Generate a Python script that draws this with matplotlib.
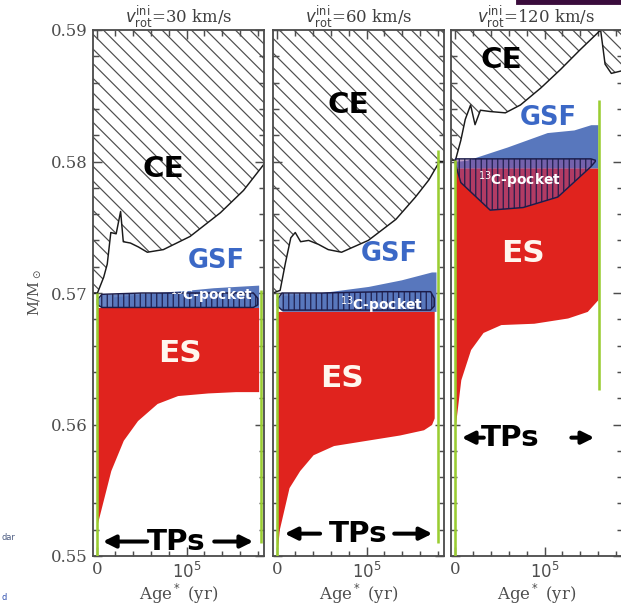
import matplotlib
matplotlib.use("Agg")
import matplotlib.pyplot as plt
from matplotlib.patches import Rectangle

# ages in units of 1e5 yr, masses in M/Msun
titles = ["$v_{\\rm rot}^{\\rm ini}$=30 km/s", "$v_{\\rm rot}^{\\rm ini}$=60 km/s", "$v_{\\rm rot}^{\\rm ini}$=120 km/s"]

# convective envelope (CE) lower boundary
ce_x1 = [-0.05, 0.0, 0.07, 0.11, 0.15, 0.21, 0.26, 0.29, 0.37, 0.46, 0.56, 0.74, 1.04, 1.38, 1.64, 1.87]
ce_y1 = [0.5700, 0.5700, 0.5712, 0.5722, 0.5746, 0.5745, 0.5762, 0.5739, 0.5738, 0.5735, 0.5731, 0.5733, 0.5743, 0.5761, 0.5778, 0.5798]
ce_x2 = [-0.05, 0.03, 0.09, 0.15, 0.20, 0.26, 0.35, 0.46, 0.57, 0.72, 1.02, 1.33, 1.55, 1.70, 1.82, 1.87]
ce_y2 = [0.5700, 0.5702, 0.5723, 0.5742, 0.5746, 0.5739, 0.5740, 0.5737, 0.5733, 0.5731, 0.5740, 0.5756, 0.5773, 0.5786, 0.5800, 0.5800]
ce_x3 = [-0.05, 0.0, 0.06, 0.11, 0.17, 0.22, 0.28, 0.39, 0.56, 0.73, 0.96, 1.18, 1.40, 1.60, 1.63]
ce_y3 = [0.5801, 0.5801, 0.5816, 0.5832, 0.5843, 0.5828, 0.5839, 0.5838, 0.5837, 0.5843, 0.5856, 0.5870, 0.5885, 0.5898, 0.5900]
# envelope after the last TP (panel 3, top right)
ce_post_x3 = [1.63, 1.68, 1.75, 1.87]
ce_post_y3 = [0.5900, 0.5874, 0.5867, 0.5869]

# GSF (blue) region
gsf_x1 = [0.18, 0.60, 0.99, 1.30, 1.55, 1.81]
gsf_top1 = [0.5697, 0.5700, 0.5702, 0.5704, 0.5705, 0.5706]
gsf_bot1 = 0.5689
gsf_x2 = [0.05, 0.46, 1.02, 1.39, 1.73, 1.78]
gsf_top2 = [0.5698, 0.5700, 0.5705, 0.5710, 0.5716, 0.5716]
gsf_bot2 = 0.5686
gsf_x3 = [0.0, 0.13, 0.58, 1.03, 1.33, 1.52, 1.60]
gsf_top3 = [0.5800, 0.5801, 0.5811, 0.5822, 0.5824, 0.5828, 0.5828]
gsf_bot3 = 0.5795

# 13C pocket
pk_x1 = [0.0, 0.05, 0.5, 1.2, 1.75, 1.80]
pk_top1 = [0.5695, 0.5699, 0.5700, 0.5700, 0.5700, 0.5696]
pk_bot1 = [0.5691, 0.5689, 0.5689, 0.5689, 0.5689, 0.5691]
pk_x2 = [0.0, 0.05, 0.5, 1.2, 1.72, 1.76]
pk_top2 = [0.5695, 0.5700, 0.5700, 0.5701, 0.5701, 0.5696]
pk_bot2 = [0.5690, 0.5687, 0.5687, 0.5687, 0.5687, 0.5690]
pk_x3 = [0.0, 0.06, 0.39, 0.76, 1.15, 1.52, 1.57]
pk_top3 = [0.5802, 0.5802, 0.5802, 0.5802, 0.5802, 0.5802, 0.5801]
pk_bot3 = [0.5798, 0.5784, 0.5763, 0.5765, 0.5773, 0.5796, 0.5800]

# envelope (ES, red) region
es_x1 = [0.0, 0.15, 0.29, 0.45, 0.67, 0.90, 1.24, 1.55, 1.81]
es_bot1 = [0.5525, 0.5565, 0.5588, 0.5603, 0.5616, 0.5622, 0.5624, 0.5625, 0.5625]
es_top1 = 0.5689
es_x2 = [0.0, 0.02, 0.13, 0.25, 0.40, 0.63, 1.00, 1.37, 1.64, 1.73, 1.76]
es_bot2 = [0.5505, 0.5520, 0.5552, 0.5565, 0.5577, 0.5584, 0.5588, 0.5592, 0.5596, 0.5600, 0.5605]
es_top2 = 0.5686
es_x3 = [0.0, 0.06, 0.17, 0.31, 0.51, 0.88, 1.26, 1.48, 1.60]
es_bot3 = [0.5600, 0.5634, 0.5657, 0.5670, 0.5676, 0.5677, 0.5681, 0.5686, 0.5695]
es_top3 = 0.5795

# TP phase markers (end) and vertical extents of the green lines
tp_end = [1.84, 1.80, 1.61]
tp_left_span = [(0.5500, 0.5700), (0.5500, 0.5700), (0.5500, 0.5801)]
tp_right_span = [(0.5510, 0.5702), (0.5510, 0.5809), (0.5626, 0.5847)]

panels = [
    (ce_x1, ce_y1, gsf_x1, gsf_top1, gsf_bot1, pk_x1, pk_top1, pk_bot1, es_x1, es_bot1, es_top1),
    (ce_x2, ce_y2, gsf_x2, gsf_top2, gsf_bot2, pk_x2, pk_top2, pk_bot2, es_x2, es_bot2, es_top2),
    (ce_x3, ce_y3, gsf_x3, gsf_top3, gsf_bot3, pk_x3, pk_top3, pk_bot3, es_x3, es_bot3, es_top3),
]

# label positions per panel: CE, GSF, pocket, ES, TPs text, left arrow, right arrow
labels = [
    dict(ce=(0.74, 0.5794), gsf=(1.33, 0.5724), pk=(1.28, 0.5698), es=(0.93, 0.5654),
         tps=(0.88, 0.5511), la=(0.60, 0.02), ra=(1.27, 1.79)),
    dict(ce=(0.80, 0.5843), gsf=(1.25, 0.5730), pk=(1.17, 0.5691), es=(0.72, 0.5635),
         tps=(0.91, 0.5517), la=(0.52, 0.04), ra=(1.27, 1.78)),
    dict(ce=(0.51, 0.5877), gsf=(1.04, 0.5833), pk=(0.72, 0.5786), es=(0.76, 0.5730),
         tps=(0.62, 0.5590), la=(0.36, 0.03), ra=(1.26, 1.60)),
]

RED = "#e0231e"
BLUE = "#5877bd"
GREEN = "#9acd32"
SERIF = "DejaVu Serif"

plt.rcParams["hatch.linewidth"] = 0.65
plt.rcParams["font.family"] = "DejaVu Sans"

DPI = 132
fig = plt.figure(figsize=(621 / DPI, 608 / DPI), dpi=DPI)

lefts = [93 / 621, 273 / 621, 451 / 621]
bottom = 1 - 556 / 608
height = (556 - 30) / 608
width = 171 / 621

for i, (cx, cy, gx, gt, gb, px, pt, pb, ex, eb, et) in enumerate(panels):
    ax = fig.add_axes([lefts[i], bottom, width, height])
    ax.set_xlim(-0.05, 1.87)
    ax.set_ylim(0.55, 0.59)

    # CE hatched
    ax.fill_between(cx, cy, 0.59, facecolor="white", edgecolor="0.3", hatch="\\\\\\", linewidth=0, zorder=1)
    ax.plot(cx, cy, color="0.1", lw=0.8, zorder=2)
    if i == 2:
        ax.fill_between(ce_post_x3, ce_post_y3, 0.59, facecolor="white", edgecolor="0.3",
                        hatch="\\\\\\", linewidth=0, zorder=1)
        ax.plot(ce_post_x3, ce_post_y3, color="0.1", lw=0.8, zorder=2)

    # GSF blue
    ax.fill_between(gx, gb, gt, color=BLUE, linewidth=0, zorder=2)

    # ES red
    ax.fill_between(ex, eb, et, color=RED, linewidth=0, zorder=3)

    # 13C pocket
    pcol = "#8c4f9f" if i == 2 else BLUE
    ax.fill_between(px, pb, pt, color=pcol, alpha=0.55 if i == 2 else 0.9, linewidth=0, zorder=4)
    ax.fill_between(px, pb, pt, facecolor="none", edgecolor="#1c1c4a", hatch="||||", linewidth=0.8, zorder=5)

    # TP markers
    ax.vlines(0.0, *tp_left_span[i], color=GREEN, lw=1.4, zorder=6)
    ax.vlines(tp_end[i], *tp_right_span[i], color=GREEN, lw=1.4, zorder=6)

    lb = labels[i]
    ax.text(*lb["ce"], "CE", fontsize=16, fontweight="bold", color="black", ha="center", va="center", zorder=7)
    ax.text(*lb["gsf"], "GSF", fontsize=14, fontweight="bold", color="#3b68c6", ha="center", va="center", zorder=7)
    ax.text(*lb["pk"], "$^{13}$C-pocket", fontsize=7.5, fontweight="bold", color="white", ha="center", va="center", zorder=7)
    ax.text(*lb["es"], "ES", fontsize=17, fontweight="bold", color="#fff6ee", ha="center", va="center", zorder=7)
    ty = lb["tps"][1]
    ax.text(*lb["tps"], "TPs", fontsize=16, fontweight="bold", color="black", ha="center", va="center", zorder=7)
    ax.annotate("", xy=(lb["la"][1], ty), xytext=(lb["la"][0], ty),
                arrowprops=dict(arrowstyle="-|>", color="black", lw=2.2, mutation_scale=14), zorder=7)
    ax.annotate("", xy=(lb["ra"][1], ty), xytext=(lb["ra"][0], ty),
                arrowprops=dict(arrowstyle="-|>", color="black", lw=2.2, mutation_scale=14), zorder=7)

    ax.set_title(titles[i], fontsize=9, family=SERIF, color="0.25", pad=4)

    ax.set_xticks([0, 1])
    ax.set_xticklabels(["0", "$10^5$"], family=SERIF, fontsize=9, color="0.3")
    ax.set_xticks([0.2, 0.4, 0.6, 0.8, 1.2, 1.4, 1.6, 1.8], minor=True)
    ax.set_yticks([0.55, 0.56, 0.57, 0.58, 0.59])
    ax.set_yticks([0.552, 0.554, 0.556, 0.558, 0.562, 0.564, 0.566, 0.568,
                   0.572, 0.574, 0.576, 0.578, 0.582, 0.584, 0.586, 0.588], minor=True)
    if i == 0:
        ax.set_yticklabels(["0.55", "0.56", "0.57", "0.58", "0.59"], family=SERIF, fontsize=9, color="0.3")
        ax.set_ylabel("M/M$_\\odot$", family=SERIF, fontsize=8, color="0.3", labelpad=4)
    else:
        ax.set_yticklabels([])
    ax.set_xlabel("Age$^*$ (yr)", family=SERIF, fontsize=9, color="0.3", labelpad=0)
    ax.tick_params(which="both", direction="in", top=True, right=True, colors="0.3", width=0.8)
    ax.tick_params(which="major", length=5, pad=3)
    ax.tick_params(which="minor", length=3)
    for sp in ax.spines.values():
        sp.set_color("0.3")
        sp.set_linewidth(1.0)

# bits at the image edges
fig.patches.append(Rectangle((517 / 621, 1 - 4 / 608), 104 / 621, 4 / 608,
                             transform=fig.transFigure, color="#3a0c3c", zorder=10))
fig.text(0.003, 1 - 537 / 608, "dar", fontsize=4.5, color="#4a5a80", va="center")
fig.text(0.003, 1 - 598 / 608, "d", fontsize=4.5, color="#3050b0", va="center")

fig.savefig("out.png", dpi=DPI)
